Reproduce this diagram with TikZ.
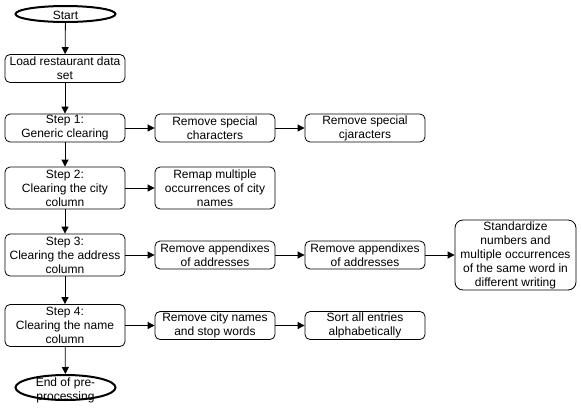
\documentclass[tikz,border=0pt]{standalone}
\usepackage{fontspec}
\setmainfont{Liberation Sans}
\usetikzlibrary{shapes.geometric,arrows.meta}
\begin{document}
\begin{tikzpicture}[x=1pt,y=1pt,
  font=\fontsize{12}{14}\selectfont,
  box/.style={draw,rounded corners=5pt,line width=0.8pt,inner sep=0pt,
    minimum width=120pt,align=center},
  twoline/.style={box,minimum height=28pt},
  threeline/.style={box,minimum height=42pt},
  term/.style={draw,ellipse,line width=2pt,minimum width=100pt,minimum height=16pt,inner sep=0pt},
  lbl/.style={inner sep=0pt,align=center},
  arr/.style={-{Triangle[length=7pt,width=7pt]},line width=0.8pt}]
\useasboundingbox (0,0) rectangle (581,-408);
\node[term] (start) at (65.5,-14) {};
\node[lbl] (starttxt) at (65.5,-15) {Start};
\node[twoline] (load) at (65,-68.5) {Load restaurant data\\set};
\node[twoline] (s1) at (65,-128) {Step 1:\\Generic clearing};
\node[twoline] (a1) at (215,-128) {Remove special\\characters};
\node[twoline] (a2) at (365,-128) {Remove special\\cjaracters};
\node[threeline] (s2) at (65,-188) {Step 2:\\Clearing the city\\column};
\node[threeline] (b1) at (215,-188) {Remap multiple\\occurrences of city\\names};
\node[threeline] (s3) at (65,-255) {Step 3:\\Clearing the address\\column};
\node[twoline] (c1) at (215,-255) {Remove appendixes\\of addresses};
\node[twoline] (c2) at (365,-255) {Remove appendixes\\of addresses};
\node[box,minimum width=121pt,minimum height=70pt,rounded corners=8pt] (c3) at (515.5,-255) {Standardize\\numbers and\\multiple occurrences\\of the same word in\\different writing};
\node[threeline] (s4) at (65,-325.5) {Step 4:\\Clearing the name\\column};
\node[twoline] (d1) at (215,-325.5) {Remove city names\\and stop words};
\node[twoline] (d2) at (365,-325.5) {Sort all entries\\alphabetically};
\node[term,minimum height=25pt] (end) at (65.5,-387.5) {};
\node[lbl] (endtxt) at (65.5,-390) {End of pre-\\processing};
\draw[arr] (start) -- (load);
\draw[arr] (load) -- (s1);
\draw[arr] (s1) -- (s2);
\draw[arr] (s2) -- (s3);
\draw[arr] (s3) -- (s4);
\draw[arr] (s4) -- (end);
\draw[arr] (s1) -- (a1);
\draw[arr] (a1) -- (a2);
\draw[arr] (s2) -- (b1);
\draw[arr] (s3) -- (c1);
\draw[arr] (c1) -- (c2);
\draw[arr] (c2) -- (c3);
\draw[arr] (s4) -- (d1);
\draw[arr] (d1) -- (d2);
\end{tikzpicture}
\end{document}
